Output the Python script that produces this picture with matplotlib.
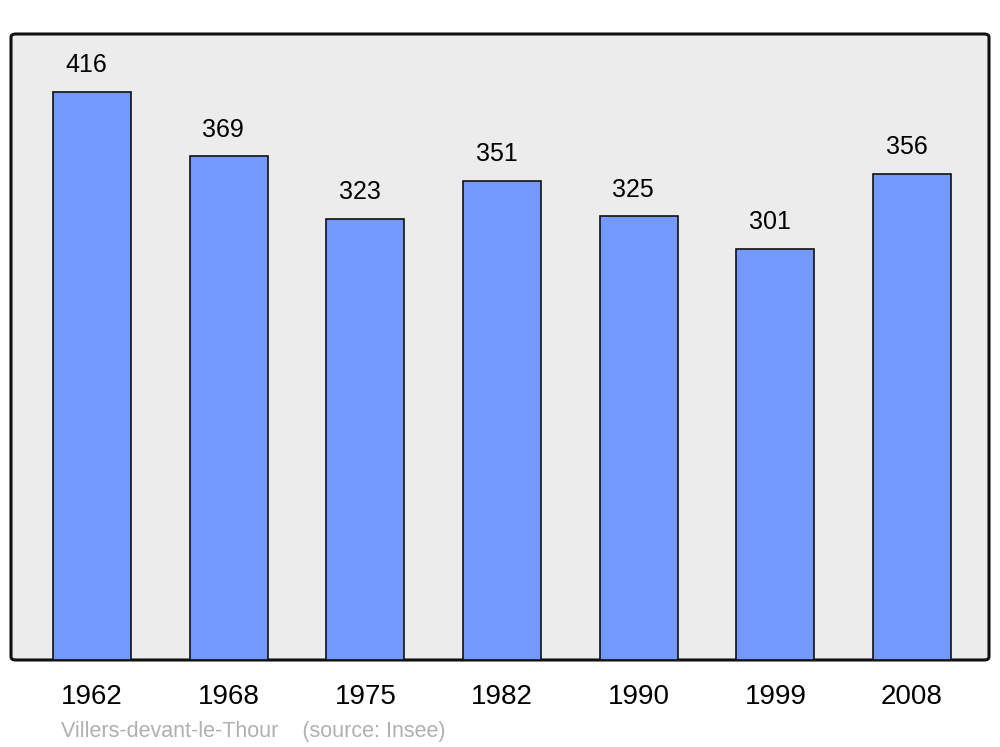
import matplotlib.pyplot as plt
import numpy as np
from matplotlib.patches import FancyBboxPatch

plt.rcParams['font.family'] = ['Liberation Sans', 'DejaVu Sans']

# Données (Insee)
annees = ['1962', '1968', '1975', '1982', '1990', '1999', '2008']
population = [416, 369, 323, 351, 325, 301, 356]
commune = 'Villers-devant-le-Thour'

W, H = 1000, 747
fig = plt.figure(figsize=(W / 100, H / 100), dpi=100)

# zone du graphique (pixels -> fraction)
x0, x1, y0, y1 = 11, 989, 34, 660
ax = fig.add_axes([x0 / W, 1 - y1 / H, (x1 - x0) / W, (y1 - y0) / H])
ax.set_facecolor('none')

# fond arrondi, derrière les barres
cadre = FancyBboxPatch((0, 0), 1, 1, boxstyle='round,pad=0,rounding_size=0.005',
                       transform=ax.transAxes, facecolor='#ececec',
                       edgecolor='#111111', linewidth=2.2, zorder=0, clip_on=False)
ax.add_patch(cadre)

x = np.arange(len(annees))
ax.bar(x, population, width=0.57, color='#7399ff', edgecolor='#111111',
       linewidth=1.2, zorder=2)

for xi, v in zip(x, population):
    ax.annotate(str(v), xy=(xi, v), xytext=(-4, 10.5), textcoords='offset points',
                ha='center', va='bottom', fontsize=18)

ax.set_xlim(-0.593, 6.563)
ax.set_ylim(0, 458.5)
for s in ax.spines.values():
    s.set_visible(False)
ax.set_yticks([])
ax.set_xticks(x)
ax.set_xticklabels(annees, fontsize=20)
ax.tick_params(axis='x', length=0, pad=17)

fig.text(61 / W, 1 - 731.5 / H, commune + '    (source: Insee)', color='#b0b0b0',
         fontsize=15.5, ha='left', va='center')

plt.savefig('out.png', dpi=100)
